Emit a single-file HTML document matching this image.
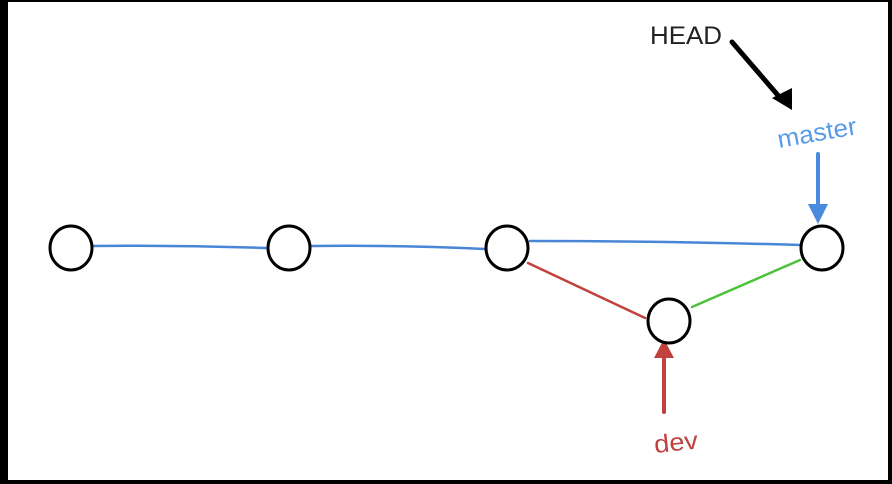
<!DOCTYPE html>
<html><head><style>
html,body{margin:0;padding:0;background:#000;}
svg{display:block}
</style></head><body>
<svg width="892" height="484" xmlns="http://www.w3.org/2000/svg">
<rect x="0" y="0" width="892" height="484" fill="#000"/>
<rect x="8" y="2" width="880" height="478" fill="#fff"/>
<g fill="none" stroke-linecap="round">
<path d="M93,246 Q180,245 267,248" stroke="#4a86d8" stroke-width="2.5"/>
<path d="M311,246 Q400,245 485,249" stroke="#4a86d8" stroke-width="2.5"/>
<path d="M530,241 Q670,241 800,245" stroke="#4a86d8" stroke-width="2.5"/>
<path d="M528,263 L645,318" stroke="#c0413d" stroke-width="2.5"/>
<path d="M692,307 L800,260" stroke="#4cc23a" stroke-width="2.5"/>
<path d="M818,154 L818,212" stroke="#4a8ae0" stroke-width="4"/>
<path d="M664,412 L664,350" stroke="#c0413d" stroke-width="4"/>
<path d="M732,42 L782,100" stroke="#000" stroke-width="5"/>
</g>
<polygon points="808,204 828,204 818,224" fill="#4a8ae0"/>
<polygon points="654,358 674,358 664,339" fill="#c0413d"/>
<polygon points="772,98 792,88 792,110" fill="#000"/>
<g fill="#fff" stroke="#000" stroke-width="3">
<ellipse cx="71" cy="248" rx="21" ry="22"/>
<ellipse cx="289" cy="248" rx="21" ry="22"/>
<ellipse cx="507" cy="248" rx="21" ry="22"/>
<ellipse cx="822" cy="248" rx="21" ry="22"/>
<ellipse cx="669" cy="321" rx="21" ry="22"/>
</g>
<text x="650" y="44" font-family="Liberation Sans, sans-serif" font-size="25" fill="#222" textLength="72" lengthAdjust="spacingAndGlyphs">HEAD</text>
<text x="779" y="148" font-family="Liberation Sans, sans-serif" font-size="25" fill="#5a9be8" transform="rotate(-10 779 148)" textLength="80" lengthAdjust="spacingAndGlyphs">master</text>
<text x="655" y="453" font-family="Liberation Sans, sans-serif" font-size="25" fill="#c0413d" transform="rotate(-6 655 453)" textLength="44" lengthAdjust="spacingAndGlyphs">dev</text>
</svg>
</body></html>
